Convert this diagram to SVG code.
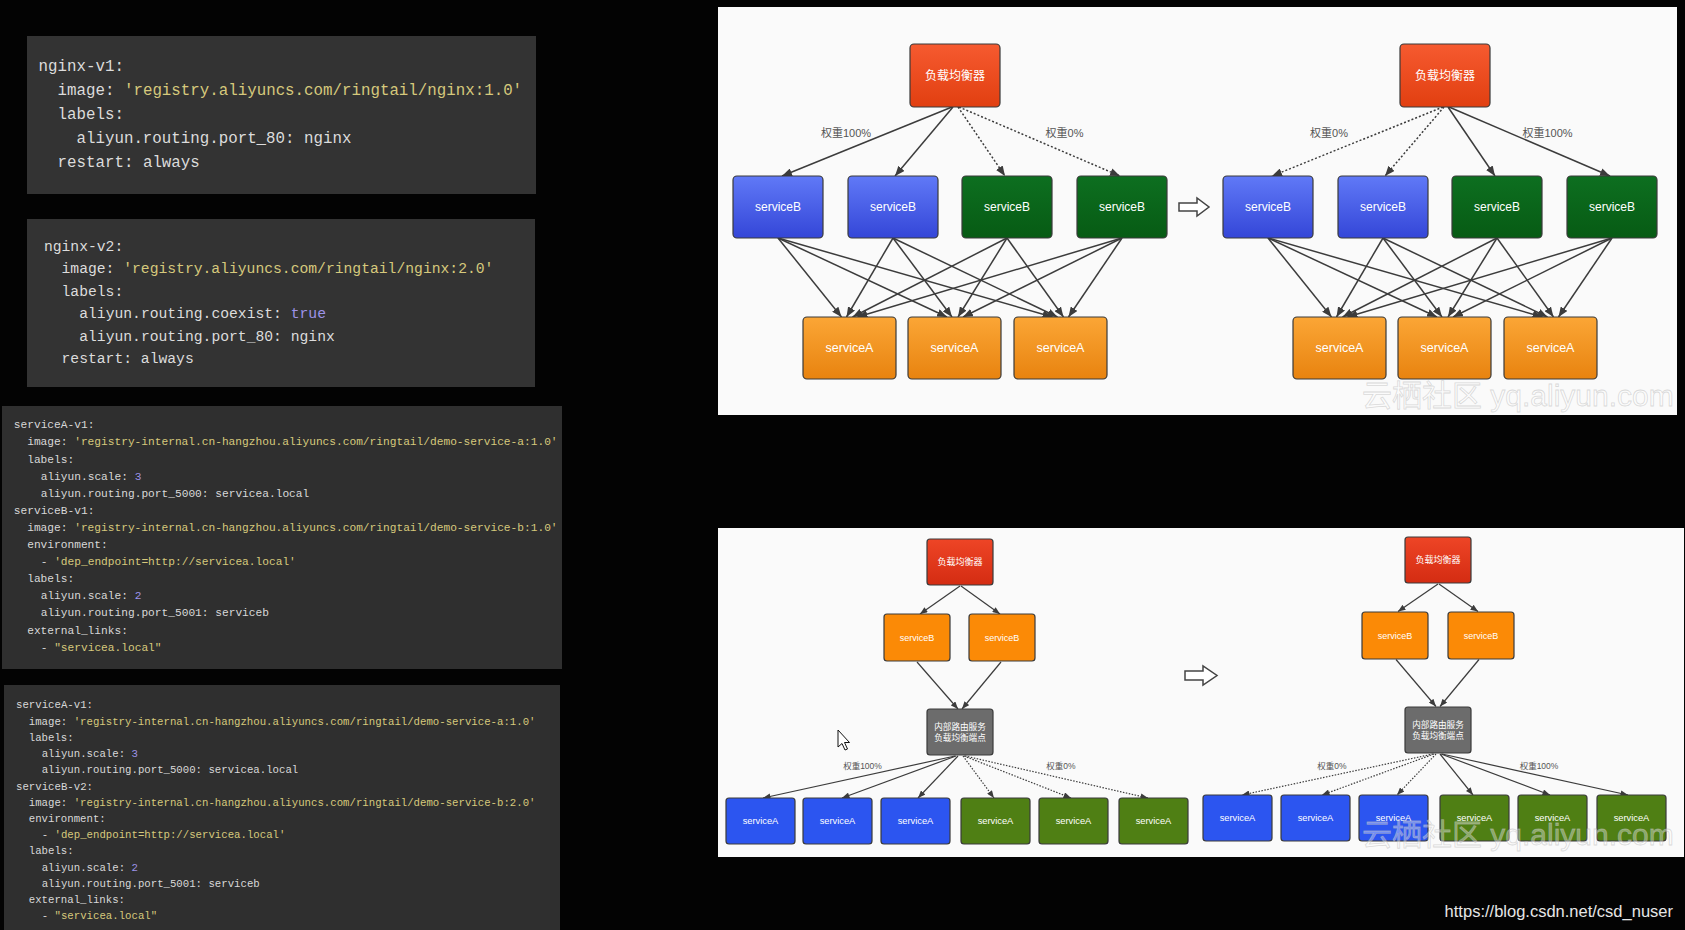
<svg xmlns="http://www.w3.org/2000/svg" width="1685" height="930" viewBox="0 0 1685 930">
<defs>
<style>
.c1{font-family:"Liberation Mono",monospace;font-size:15.8px;fill:#dcdcdc}
.c2{font-family:"Liberation Mono",monospace;font-size:14.7px;fill:#dcdcdc}
.c3{font-family:"Liberation Mono",monospace;font-size:11.2px;fill:#d8d8d8}
.c4{font-family:"Liberation Mono",monospace;font-size:10.7px;fill:#d8d8d8}
.s{fill:#d6c97c}
.n{fill:#9d92e8}
.nd{stroke:#3a3a3a;stroke-width:1.2}
.t{font-family:"Liberation Sans","Noto Sans CJK SC",sans-serif;fill:#fff;text-anchor:middle}
.w{font-family:"Liberation Sans","Noto Sans CJK SC",sans-serif;fill:#555;text-anchor:middle}
.e{stroke:#3c3c3c;stroke-width:1.5;fill:none;marker-end:url(#ah)}
.d{stroke:#3c3c3c;stroke-width:1.5;fill:none;stroke-dasharray:2 2;marker-end:url(#ah)}
.es{stroke:#3c3c3c;stroke-width:1.2;fill:none;marker-end:url(#as)}
.ds{stroke:#3c3c3c;stroke-width:1.2;fill:none;stroke-dasharray:1.5 1.5;marker-end:url(#as)}
.ha{fill:#fff;stroke:#444;stroke-width:1.5}
.wm{font-family:"Liberation Sans","Noto Sans CJK SC",sans-serif;fill:#fff;fill-opacity:0.35;stroke:#bdbdbd;stroke-opacity:0.55;stroke-width:0.8}
</style>
<marker id="ah" viewBox="0 0 10 8" refX="10" refY="4" markerWidth="10" markerHeight="8" markerUnits="userSpaceOnUse" orient="auto"><path d="M0,0 L10,4 L0,8 z" fill="#3c3c3c"/></marker>
<marker id="as" viewBox="0 0 10 8" refX="10" refY="4" markerWidth="8" markerHeight="6" markerUnits="userSpaceOnUse" orient="auto"><path d="M0,0 L10,4 L0,8 z" fill="#3c3c3c"/></marker>
<linearGradient id="gR" x1="0" y1="0" x2="0" y2="1"><stop offset="0" stop-color="#f65a30"/><stop offset="1" stop-color="#e13f10"/></linearGradient>
<linearGradient id="gB" x1="0" y1="0" x2="0" y2="1"><stop offset="0" stop-color="#6079f7"/><stop offset="1" stop-color="#3446d8"/></linearGradient>
<linearGradient id="gG" x1="0" y1="0" x2="0" y2="1"><stop offset="0" stop-color="#0d6f20"/><stop offset="1" stop-color="#075b14"/></linearGradient>
<linearGradient id="gO" x1="0" y1="0" x2="0" y2="1"><stop offset="0" stop-color="#fba636"/><stop offset="1" stop-color="#e8830f"/></linearGradient>
<linearGradient id="gR2" x1="0" y1="0" x2="0" y2="1"><stop offset="0" stop-color="#ee4526"/><stop offset="1" stop-color="#d42c12"/></linearGradient>
</defs>
<rect width="1685" height="930" fill="#030303"/>

<g id="code-nginx-v1">
<rect x="27" y="36" width="509" height="158" fill="#333333"/>
<text class="c1" x="38.6" y="71">nginx-v1:</text>
<text class="c1" x="57.6" y="95">image: <tspan class="s">'registry.aliyuncs.com/ringtail/nginx:1.0'</tspan></text>
<text class="c1" x="57.6" y="119">labels:</text>
<text class="c1" x="76.5" y="143">aliyun.routing.port_80: nginx</text>
<text class="c1" x="57.6" y="167">restart: always</text>
</g>

<g id="code-nginx-v2">
<rect x="27" y="219" width="508" height="168" fill="#333333"/>
<text class="c2" x="43.9" y="250.5">nginx-v2:</text>
<text class="c2" x="61.5" y="273">image: <tspan class="s">'registry.aliyuncs.com/ringtail/nginx:2.0'</tspan></text>
<text class="c2" x="61.5" y="295.5">labels:</text>
<text class="c2" x="79.2" y="318">aliyun.routing.coexist: <tspan class="n">true</tspan></text>
<text class="c2" x="79.2" y="340.5">aliyun.routing.port_80: nginx</text>
<text class="c2" x="61.5" y="363">restart: always</text>
</g>

<g id="code-service-v1">
<rect x="2" y="406" width="560" height="263" fill="#2f2f2f"/>
<text class="c3" x="13.8" y="428.3">serviceA-v1:</text>
<text class="c3" x="27.2" y="445.4">image: <tspan class="s">'registry-internal.cn-hangzhou.aliyuncs.com/ringtail/demo-service-a:1.0'</tspan></text>
<text class="c3" x="27.2" y="462.5">labels:</text>
<text class="c3" x="40.7" y="479.6">aliyun.scale: <tspan class="n">3</tspan></text>
<text class="c3" x="40.7" y="496.7">aliyun.routing.port_5000: servicea.local</text>
<text class="c3" x="13.8" y="513.8">serviceB-v1:</text>
<text class="c3" x="27.2" y="530.9">image: <tspan class="s">'registry-internal.cn-hangzhou.aliyuncs.com/ringtail/demo-service-b:1.0'</tspan></text>
<text class="c3" x="27.2" y="548">environment:</text>
<text class="c3" x="40.7" y="565.1">- <tspan class="s">'dep_endpoint=http://servicea.local'</tspan></text>
<text class="c3" x="27.2" y="582.2">labels:</text>
<text class="c3" x="40.7" y="599.3">aliyun.scale: <tspan class="n">2</tspan></text>
<text class="c3" x="40.7" y="616.4">aliyun.routing.port_5001: serviceb</text>
<text class="c3" x="27.2" y="633.5">external_links:</text>
<text class="c3" x="40.7" y="650.6">- <tspan class="s">"servicea.local"</tspan></text>
</g>

<g id="code-service-v2">
<rect x="4" y="685" width="556" height="245" fill="#2f2f2f"/>
<text class="c4" x="16" y="708.3">serviceA-v1:</text>
<text class="c4" x="28.8" y="724.5">image: <tspan class="s">'registry-internal.cn-hangzhou.aliyuncs.com/ringtail/demo-service-a:1.0'</tspan></text>
<text class="c4" x="28.8" y="740.8">labels:</text>
<text class="c4" x="41.7" y="757">aliyun.scale: <tspan class="n">3</tspan></text>
<text class="c4" x="41.7" y="773.2">aliyun.routing.port_5000: servicea.local</text>
<text class="c4" x="16" y="789.5">serviceB-v2:</text>
<text class="c4" x="28.8" y="805.7">image: <tspan class="s">'registry-internal.cn-hangzhou.aliyuncs.com/ringtail/demo-service-b:2.0'</tspan></text>
<text class="c4" x="28.8" y="821.9">environment:</text>
<text class="c4" x="41.7" y="838.1">- <tspan class="s">'dep_endpoint=http://servicea.local'</tspan></text>
<text class="c4" x="28.8" y="854.4">labels:</text>
<text class="c4" x="41.7" y="870.6">aliyun.scale: <tspan class="n">2</tspan></text>
<text class="c4" x="41.7" y="886.8">aliyun.routing.port_5001: serviceb</text>
<text class="c4" x="28.8" y="903.1">external_links:</text>
<text class="c4" x="41.7" y="919.3">- <tspan class="s">"servicea.local"</tspan></text>
</g>

<g id="panel-top">
<rect x="718" y="7" width="959" height="408" fill="#fafafa"/>
</g>
<g id="panel-bottom">
<rect x="718" y="528" width="966" height="329" fill="#fafafa"/>
</g>

<g id="connectors">
<!-- top left: LB -> serviceB -->
<line class="e" x1="952" y1="107" x2="782" y2="176"/>
<line class="e" x1="953" y1="107" x2="895" y2="176"/>
<line class="d" x1="958" y1="107" x2="1005" y2="176"/>
<line class="d" x1="959" y1="107" x2="1120" y2="176"/>
<!-- top left: serviceB -> serviceA -->
<line class="e" x1="778" y1="238" x2="841.5" y2="317"/>
<line class="e" x1="778" y1="238" x2="947" y2="317"/>
<line class="e" x1="778" y1="238" x2="1052.5" y2="317"/>
<line class="e" x1="893" y1="238" x2="846.5" y2="317"/>
<line class="e" x1="893" y1="238" x2="952" y2="317"/>
<line class="e" x1="893" y1="238" x2="1057.5" y2="317"/>
<line class="e" x1="1007" y1="238" x2="852.5" y2="317"/>
<line class="e" x1="1007" y1="238" x2="958" y2="317"/>
<line class="e" x1="1007" y1="238" x2="1063.5" y2="317"/>
<line class="e" x1="1122" y1="238" x2="857.5" y2="317"/>
<line class="e" x1="1122" y1="238" x2="963" y2="317"/>
<line class="e" x1="1122" y1="238" x2="1068.5" y2="317"/>
<!-- top right: LB -> serviceB -->
<line class="d" x1="1443" y1="107" x2="1272" y2="176"/>
<line class="d" x1="1444" y1="107" x2="1385" y2="176"/>
<line class="e" x1="1448" y1="107" x2="1495" y2="176"/>
<line class="e" x1="1449" y1="107" x2="1610" y2="176"/>
<!-- top right: serviceB -> serviceA -->
<line class="e" x1="1268" y1="238" x2="1331.5" y2="317"/>
<line class="e" x1="1268" y1="238" x2="1437" y2="317"/>
<line class="e" x1="1268" y1="238" x2="1542.5" y2="317"/>
<line class="e" x1="1383" y1="238" x2="1336.5" y2="317"/>
<line class="e" x1="1383" y1="238" x2="1442" y2="317"/>
<line class="e" x1="1383" y1="238" x2="1547.5" y2="317"/>
<line class="e" x1="1497" y1="238" x2="1342.5" y2="317"/>
<line class="e" x1="1497" y1="238" x2="1448" y2="317"/>
<line class="e" x1="1497" y1="238" x2="1553.5" y2="317"/>
<line class="e" x1="1612" y1="238" x2="1347.5" y2="317"/>
<line class="e" x1="1612" y1="238" x2="1453" y2="317"/>
<line class="e" x1="1612" y1="238" x2="1558.5" y2="317"/>
<!-- bottom left -->
<line class="es" x1="960" y1="586" x2="920" y2="614"/>
<line class="es" x1="961" y1="586" x2="1000" y2="614"/>
<line class="es" x1="917" y1="662" x2="958" y2="709"/>
<line class="es" x1="1001" y1="662" x2="962" y2="709"/>
<line class="es" x1="955" y1="756" x2="763" y2="798"/>
<line class="es" x1="956" y1="756" x2="842" y2="798"/>
<line class="es" x1="958" y1="756" x2="918" y2="798"/>
<line class="ds" x1="963" y1="756" x2="994" y2="798"/>
<line class="ds" x1="964" y1="756" x2="1071" y2="798"/>
<line class="ds" x1="965" y1="756" x2="1148" y2="798"/>
<!-- bottom right -->
<line class="es" x1="1438" y1="584" x2="1398" y2="611.5"/>
<line class="es" x1="1439" y1="584" x2="1478" y2="611.5"/>
<line class="es" x1="1396" y1="659.5" x2="1436" y2="706.5"/>
<line class="es" x1="1479" y1="659.5" x2="1440" y2="706.5"/>
<line class="ds" x1="1433" y1="754" x2="1242" y2="795"/>
<line class="ds" x1="1434" y1="754" x2="1322" y2="795"/>
<line class="ds" x1="1436" y1="754" x2="1397" y2="795"/>
<line class="es" x1="1440" y1="754" x2="1473" y2="795"/>
<line class="es" x1="1441" y1="754" x2="1550" y2="795"/>
<line class="es" x1="1442" y1="754" x2="1628" y2="795"/>
</g>

<g id="weight-labels">
<text class="w" x="846" y="136.5" font-size="11">权重100%</text>
<text class="w" x="1064.5" y="136.5" font-size="11">权重0%</text>
<text class="w" x="1329" y="136.5" font-size="11">权重0%</text>
<text class="w" x="1547.5" y="136.5" font-size="11">权重100%</text>
<text class="w" x="862.5" y="769" font-size="8.5">权重100%</text>
<text class="w" x="1061" y="769" font-size="8.5">权重0%</text>
<text class="w" x="1332" y="769" font-size="8.5">权重0%</text>
<text class="w" x="1539" y="769" font-size="8.5">权重100%</text>
</g>

<!-- top left nodes -->
<g id="tl-lb"><rect class="nd" x="910" y="44" width="90" height="63" rx="4" fill="url(#gR)"/><text class="t" x="955" y="79.5" font-size="12">负载均衡器</text></g>
<g id="tl-b1"><rect class="nd" x="733" y="176" width="90" height="62" rx="4" fill="url(#gB)"/><text class="t" x="778" y="211" font-size="12">serviceB</text></g>
<g id="tl-b2"><rect class="nd" x="848" y="176" width="90" height="62" rx="4" fill="url(#gB)"/><text class="t" x="893" y="211" font-size="12">serviceB</text></g>
<g id="tl-b3"><rect class="nd" x="962" y="176" width="90" height="62" rx="4" fill="url(#gG)"/><text class="t" x="1007" y="211" font-size="12">serviceB</text></g>
<g id="tl-b4"><rect class="nd" x="1077" y="176" width="90" height="62" rx="4" fill="url(#gG)"/><text class="t" x="1122" y="211" font-size="12">serviceB</text></g>
<g id="tl-a1"><rect class="nd" x="803" y="317" width="93" height="62" rx="4" fill="url(#gO)"/><text class="t" x="849.5" y="352" font-size="12.5">serviceA</text></g>
<g id="tl-a2"><rect class="nd" x="908" y="317" width="93" height="62" rx="4" fill="url(#gO)"/><text class="t" x="954.5" y="352" font-size="12.5">serviceA</text></g>
<g id="tl-a3"><rect class="nd" x="1014" y="317" width="93" height="62" rx="4" fill="url(#gO)"/><text class="t" x="1060.5" y="352" font-size="12.5">serviceA</text></g>

<g id="top-transition-arrow"><path class="ha" d="M1179,203 H1197 V198 L1209,207 L1197,216 V211 H1179 Z"/></g>

<!-- top right nodes -->
<g id="tr-lb"><rect class="nd" x="1400" y="44" width="90" height="63" rx="4" fill="url(#gR)"/><text class="t" x="1445" y="79.5" font-size="12">负载均衡器</text></g>
<g id="tr-b1"><rect class="nd" x="1223" y="176" width="90" height="62" rx="4" fill="url(#gB)"/><text class="t" x="1268" y="211" font-size="12">serviceB</text></g>
<g id="tr-b2"><rect class="nd" x="1338" y="176" width="90" height="62" rx="4" fill="url(#gB)"/><text class="t" x="1383" y="211" font-size="12">serviceB</text></g>
<g id="tr-b3"><rect class="nd" x="1452" y="176" width="90" height="62" rx="4" fill="url(#gG)"/><text class="t" x="1497" y="211" font-size="12">serviceB</text></g>
<g id="tr-b4"><rect class="nd" x="1567" y="176" width="90" height="62" rx="4" fill="url(#gG)"/><text class="t" x="1612" y="211" font-size="12">serviceB</text></g>
<g id="tr-a1"><rect class="nd" x="1293" y="317" width="93" height="62" rx="4" fill="url(#gO)"/><text class="t" x="1339.5" y="352" font-size="12.5">serviceA</text></g>
<g id="tr-a2"><rect class="nd" x="1398" y="317" width="93" height="62" rx="4" fill="url(#gO)"/><text class="t" x="1444.5" y="352" font-size="12.5">serviceA</text></g>
<g id="tr-a3"><rect class="nd" x="1504" y="317" width="93" height="62" rx="4" fill="url(#gO)"/><text class="t" x="1550.5" y="352" font-size="12.5">serviceA</text></g>

<text class="wm" x="1362" y="406" font-size="30">云栖社区 yq.aliyun.com</text>

<!-- bottom left nodes -->
<g id="bl-lb"><rect class="nd" x="927" y="539" width="66" height="46" rx="3" fill="url(#gR2)"/><text class="t" x="960" y="565" font-size="9">负载均衡器</text></g>
<g id="bl-b1"><rect class="nd" x="884" y="614" width="66" height="47" rx="3" fill="#fb8a06"/><text class="t" x="917" y="640.5" font-size="9">serviceB</text></g>
<g id="bl-b2"><rect class="nd" x="969" y="614" width="66" height="47" rx="3" fill="#fb8a06"/><text class="t" x="1002" y="640.5" font-size="9">serviceB</text></g>
<g id="bl-router"><rect class="nd" x="927" y="709" width="66" height="46" rx="3" fill="#6c6c6c"/><text class="t" x="960" y="729.5" font-size="8.6">内部路由服务</text><text class="t" x="960" y="740.5" font-size="8.6">负载均衡端点</text></g>
<g id="bl-a1"><rect class="nd" x="726" y="798" width="69" height="46" rx="3" fill="#2c55f0"/><text class="t" x="760.5" y="824" font-size="9.3">serviceA</text></g>
<g id="bl-a2"><rect class="nd" x="803" y="798" width="69" height="46" rx="3" fill="#2c55f0"/><text class="t" x="837.5" y="824" font-size="9.3">serviceA</text></g>
<g id="bl-a3"><rect class="nd" x="881" y="798" width="69" height="46" rx="3" fill="#2c55f0"/><text class="t" x="915.5" y="824" font-size="9.3">serviceA</text></g>
<g id="bl-a4"><rect class="nd" x="961" y="798" width="69" height="46" rx="3" fill="#4f7f14"/><text class="t" x="995.5" y="824" font-size="9.3">serviceA</text></g>
<g id="bl-a5"><rect class="nd" x="1039" y="798" width="69" height="46" rx="3" fill="#4f7f14"/><text class="t" x="1073.5" y="824" font-size="9.3">serviceA</text></g>
<g id="bl-a6"><rect class="nd" x="1119" y="798" width="69" height="46" rx="3" fill="#4f7f14"/><text class="t" x="1153.5" y="824" font-size="9.3">serviceA</text></g>

<g id="bottom-transition-arrow"><path class="ha" d="M1185,671 H1203 V666 L1217,675.5 L1203,685 V680 H1185 Z"/></g>

<!-- bottom right nodes -->
<g id="br-lb"><rect class="nd" x="1405" y="537" width="66" height="46" rx="3" fill="url(#gR2)"/><text class="t" x="1438" y="563" font-size="9">负载均衡器</text></g>
<g id="br-b1"><rect class="nd" x="1362" y="612" width="66" height="47" rx="3" fill="#fb8a06"/><text class="t" x="1395" y="638.5" font-size="9">serviceB</text></g>
<g id="br-b2"><rect class="nd" x="1448" y="612" width="66" height="47" rx="3" fill="#fb8a06"/><text class="t" x="1481" y="638.5" font-size="9">serviceB</text></g>
<g id="br-router"><rect class="nd" x="1405" y="707" width="66" height="46" rx="3" fill="#6c6c6c"/><text class="t" x="1438" y="727.5" font-size="8.6">内部路由服务</text><text class="t" x="1438" y="738.5" font-size="8.6">负载均衡端点</text></g>
<g id="br-a1"><rect class="nd" x="1203" y="795" width="69" height="46" rx="3" fill="#2c55f0"/><text class="t" x="1237.5" y="821" font-size="9.3">serviceA</text></g>
<g id="br-a2"><rect class="nd" x="1281" y="795" width="69" height="46" rx="3" fill="#2c55f0"/><text class="t" x="1315.5" y="821" font-size="9.3">serviceA</text></g>
<g id="br-a3"><rect class="nd" x="1359" y="795" width="69" height="46" rx="3" fill="#2c55f0"/><text class="t" x="1393.5" y="821" font-size="9.3">serviceA</text></g>
<g id="br-a4"><rect class="nd" x="1440" y="795" width="69" height="46" rx="3" fill="#4f7f14"/><text class="t" x="1474.5" y="821" font-size="9.3">serviceA</text></g>
<g id="br-a5"><rect class="nd" x="1518" y="795" width="69" height="46" rx="3" fill="#4f7f14"/><text class="t" x="1552.5" y="821" font-size="9.3">serviceA</text></g>
<g id="br-a6"><rect class="nd" x="1597" y="795" width="69" height="46" rx="3" fill="#4f7f14"/><text class="t" x="1631.5" y="821" font-size="9.3">serviceA</text></g>

<text class="wm" x="1362" y="845" font-size="30">云栖社区 yq.aliyun.com</text>

<g id="cursor"><path d="M838,730 L838,747 L842,743.5 L845,750 L847.5,749 L844.5,742.5 L849.5,742.5 Z" fill="#fff" stroke="#111" stroke-width="1"/></g>

<text x="1673" y="917" font-family="Liberation Sans,sans-serif" font-size="16.5" fill="#e6e6e6" text-anchor="end">https://blog.csdn.net/csd_nuser</text>
</svg>
